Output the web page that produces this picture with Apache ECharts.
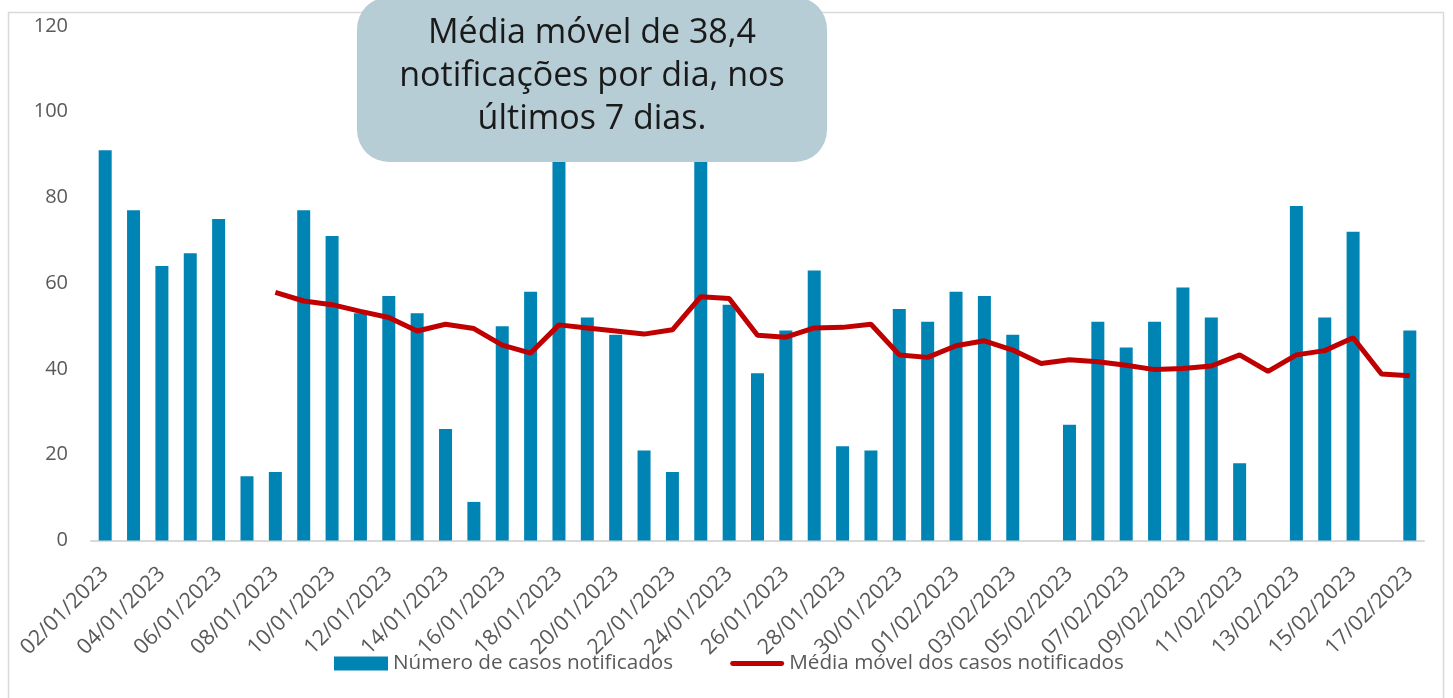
<!DOCTYPE html>
<html>
<head>
<meta charset="utf-8">
<script src="https://cdn.jsdelivr.net/npm/echarts@6/dist/echarts.min.js"></script>
<style>
  html, body { margin: 0; padding: 0; background: #fff; }
  #chart { width: 1453px; height: 698px; }
</style>
</head>
<body>
<div id="chart"></div>
<script>
// datas (02/01/2023 -> 17/02/2023)
const dates = [
  "02/01/2023", "03/01/2023", "04/01/2023", "05/01/2023", "06/01/2023", "07/01/2023", "08/01/2023",
  "09/01/2023", "10/01/2023", "11/01/2023", "12/01/2023", "13/01/2023", "14/01/2023", "15/01/2023",
  "16/01/2023", "17/01/2023", "18/01/2023", "19/01/2023", "20/01/2023", "21/01/2023", "22/01/2023",
  "23/01/2023", "24/01/2023", "25/01/2023", "26/01/2023", "27/01/2023", "28/01/2023", "29/01/2023",
  "30/01/2023", "31/01/2023", "01/02/2023", "02/02/2023", "03/02/2023", "04/02/2023", "05/02/2023",
  "06/02/2023", "07/02/2023", "08/02/2023", "09/02/2023", "10/02/2023", "11/02/2023", "12/02/2023",
  "13/02/2023", "14/02/2023", "15/02/2023", "16/02/2023", "17/02/2023"
];

// número de casos notificados por dia
const casos = [
  91, 77, 64, 67, 75, 15, 16,
  77, 71, 53, 57, 53, 26, 9,
  50, 58, 99, 52, 48, 21, 16,
  104, 55, 39, 49, 63, 22, 21,
  54, 51, 58, 57, 48, 0, 27,
  51, 45, 51, 59, 52, 18, 0,
  78, 52, 72, 0, 49
];

// média móvel (7 dias)
const mediaMovel = [
  "-", "-", "-", "-", "-", "-", 57.86,
  55.86, 55.0, 53.43, 52.0, 48.86, 50.43, 49.43,
  45.57, 43.71, 50.29, 49.57, 48.86, 48.14, 49.14,
  56.86, 56.43, 47.86, 47.43, 49.57, 49.71, 50.43,
  43.29, 42.71, 45.43, 46.57, 44.43, 41.29, 42.14,
  41.71, 40.86, 39.86, 40.14, 40.71, 43.29, 39.43,
  43.29, 44.29, 47.29, 38.86, 38.43
];

const yTicks = [0, 20, 40, 60, 80, 100, 120];
const seriesNames = ["Número de casos notificados", "Média móvel dos casos notificados"];
const nota = "Média móvel de 38,4\nnotificações por dia, nos\núltimos 7 dias.";

const myChart = echarts.init(document.getElementById("chart"));

const options = {
  animation: false,
  textStyle: { fontFamily: "Open Sans" },
  grid: { left: 91, right: 29, top: 26, bottom: 157.5 },
  legend: {
    left: 334,
    top: 653,
    padding: 0,
    itemGap: 57,
    itemWidth: 54,
    itemHeight: 14,
    textStyle: { color: "#595959", fontSize: 20.7, fontFamily: "Open Sans" },
    data: [
      { name: seriesNames[0], icon: "rect" },
      {
        name: seriesNames[1],
        // traço vermelho com pontas arredondadas
        icon: "path://M2.5,0H53.5A2.5,2.5,0,0,1,53.5,5H2.5A2.5,2.5,0,0,1,2.5,0Z",
        itemStyle: { color: "#C00000", borderWidth: 0 }
      }
    ]
  },
  xAxis: {
    type: "category",
    data: dates,
    axisLine: { show: true, lineStyle: { color: "#D9D9D9", width: 2 } },
    axisTick: { show: false },
    axisLabel: {
      interval: 1,
      rotate: 45,
      margin: 30,
      color: "#595959",
      fontSize: 21.5
    }
  },
  yAxis: {
    type: "value",
    min: yTicks[0],
    max: yTicks[yTicks.length - 1],
    interval: 20,
    axisLine: { show: false },
    axisTick: { show: false },
    splitLine: { show: false },
    axisLabel: { color: "#595959", fontSize: 20, margin: 23 }
  },
  series: [
    {
      name: seriesNames[0],
      type: "bar",
      data: casos,
      barWidth: 13,
      itemStyle: { color: "#0084B4" }
    },
    {
      name: seriesNames[1],
      type: "line",
      data: mediaMovel,
      symbol: "none",
      lineStyle: { color: "#C00000", width: 5 },
      itemStyle: { color: "#C00000" }
    }
  ],
  graphic: [
    // moldura do gráfico
    {
      type: "rect",
      silent: true,
      z: -1,
      shape: { x: 8.5, y: 12.5, width: 1435, height: 700 },
      style: { fill: null, stroke: "#D9D9D9", lineWidth: 1.5 }
    },
    // caixa de destaque
    {
      type: "rect",
      z: 100,
      shape: { x: 357, y: -3, width: 470, height: 165, r: 32 },
      style: { fill: "#B6CDD5" }
    },
    {
      type: "text",
      z: 101,
      x: 592,
      y: 76,
      style: {
        text: nota,
        fill: "#1a1a1a",
        fontFamily: "Open Sans",
        fontSize: 34,
        lineHeight: 43,
        align: "center",
        verticalAlign: "middle"
      }
    }
  ]
};

myChart.setOption(options);
</script>
</body>
</html>
